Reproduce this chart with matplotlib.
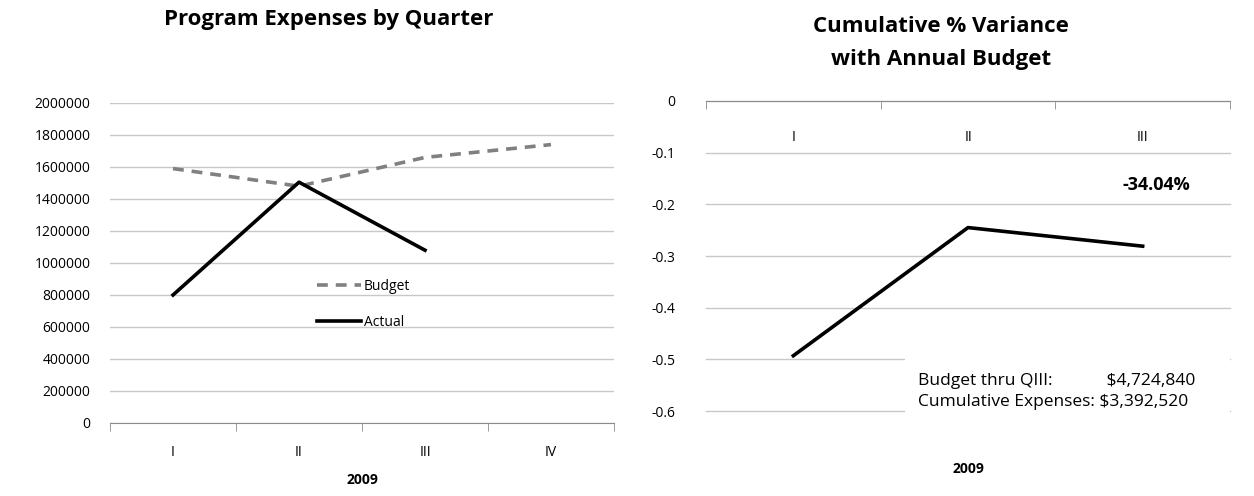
import numpy as np
import matplotlib.pyplot as plt
from matplotlib.ticker import FixedLocator
from matplotlib.patches import Rectangle

plt.rcParams['font.family'] = ['Open Sans', 'DejaVu Sans']

# left chart data
quarters = ['I', 'II', 'III', 'IV']
budget = [1590000, 1480000, 1660000, 1740000]
actual = [800000, 1505000, 1080000]

# right chart data
var_quarters = ['I', 'II', 'III']
variance = [-0.493, -0.245, -0.281]
yticks_left = [0, 200000, 400000, 600000, 800000, 1000000, 1200000, 1400000, 1600000, 1800000, 2000000]
yticks_right = [0, -0.1, -0.2, -0.3, -0.4, -0.5, -0.6]

grid_c = '#c8c8c8'
axis_c = '#8c8c8c'
W, H = 1254, 496

fig = plt.figure(figsize=(W / 100, H / 100), dpi=100)

# ======================
# Program expenses by quarter
# ======================
ax1 = fig.add_axes([110 / W, 1 - 423 / H, 504 / W, 320 / H])
x = np.arange(len(quarters))
ax1.plot(x, budget, color='#808080', lw=2.6, ls=(0, (3, 2.2)), label='Budget')
ax1.plot(x[:len(actual)], actual, color='black', lw=2.6, label='Actual')
ax1.set_xlim(-0.5, len(quarters) - 0.5)
ax1.set_ylim(0, 2000000)
ax1.set_yticks(yticks_left)
ax1.set_yticklabels([str(v) for v in yticks_left])
ax1.yaxis.grid(True, color=grid_c, lw=1)
ax1.set_axisbelow(True)
for s in ['left', 'right', 'top']:
    ax1.spines[s].set_visible(False)
ax1.spines['bottom'].set_color(axis_c)
ax1.set_xticks(x)
ax1.set_xticklabels(quarters)
ax1.xaxis.set_minor_locator(FixedLocator(np.arange(len(quarters) + 1) - 0.5))
ax1.tick_params(axis='x', which='major', length=0, pad=16, labelsize=10)
ax1.tick_params(axis='x', which='minor', length=6, color=axis_c)
ax1.tick_params(axis='y', length=0, pad=14, labelsize=10)
ax1.set_xlabel('2009', fontsize=10, fontweight='bold', labelpad=9)
fig.text(329 / W, 1 - 20 / H, 'Program Expenses by Quarter', fontsize=16, fontweight='bold',
         ha='center', va='center')
leg = ax1.legend(loc='upper left', bbox_to_anchor=(0.385, 0.49), frameon=False,
                 fontsize=10, handlelength=3.2, handletextpad=0.2, labelspacing=1.5)

# ======================
# Cumulative % variance
# ======================
ax2 = fig.add_axes([706 / W, 1 - 411 / H, 524 / W, 310 / H])
x2 = np.arange(len(var_quarters))
ax2.plot(x2, variance, color='black', lw=2.6, zorder=3)
ax2.set_xlim(-0.5, len(var_quarters) - 0.5)
ax2.set_ylim(-0.6, 0)
ax2.set_yticks(yticks_right)
ax2.set_yticklabels(['0' if v == 0 else f'{v:.1f}' for v in yticks_right])
ax2.yaxis.grid(True, color=grid_c, lw=1)
for gl in ax2.get_ygridlines():
    gl.set_clip_on(False)
ax2.set_axisbelow(True)
for s in ['left', 'right', 'bottom']:
    ax2.spines[s].set_visible(False)
ax2.spines['top'].set_color(axis_c)
ax2.set_xticks(x2)
ax2.set_xticklabels(var_quarters)
ax2.xaxis.set_minor_locator(FixedLocator(np.arange(len(var_quarters) + 1) - 0.5))
ax2.tick_params(axis='x', which='both', bottom=False, top=True, labelbottom=False,
                labeltop=True, direction='in')
ax2.tick_params(axis='x', which='major', length=0, pad=-32, labelsize=10)
ax2.tick_params(axis='x', which='minor', length=6, color=axis_c)
ax2.tick_params(axis='y', length=0, pad=22, labelsize=10)
ax2.set_xlabel('2009', fontsize=10, fontweight='bold', labelpad=37)
fig.text(941 / W, 1 - 43 / H, 'Cumulative % Variance\nwith Annual Budget', fontsize=16,
         fontweight='bold', ha='center', va='center', linespacing=1.75)

# white box behind the totals covers the lower gridlines
ax2.add_patch(Rectangle((0.38, -0.05), 0.62, 0.23, transform=ax2.transAxes,
                        facecolor='white', edgecolor='none', zorder=2, clip_on=False))
ax2.text(0.925, 0.729, '-34.04%', transform=ax2.transAxes, ha='right', va='center',
         fontsize=13, fontweight='bold', zorder=4)
ax2.text(0.405, 0.062, 'Budget thru QIII:            $4,724,840\nCumulative Expenses: $3,392,520',
         transform=ax2.transAxes, ha='left', va='center', fontsize=12.5, linespacing=1.45,
         zorder=4)

fig.savefig('out.png', dpi=100)
